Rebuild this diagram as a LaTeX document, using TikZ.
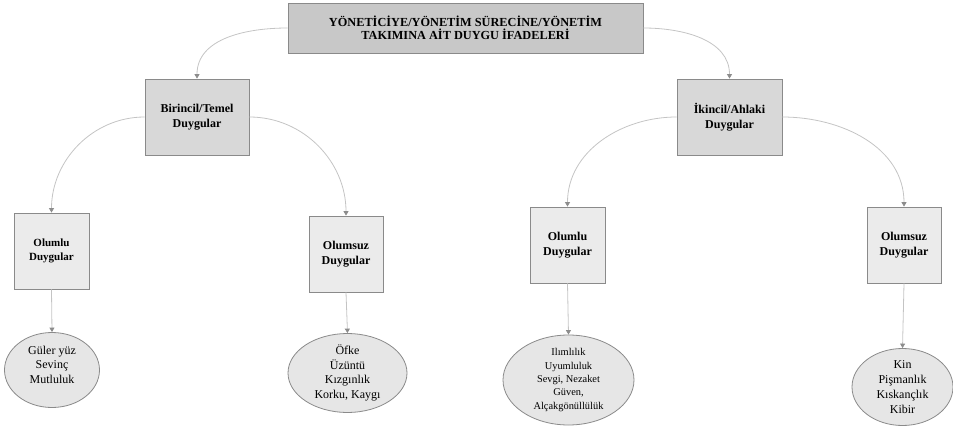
\documentclass[tikz,border=0pt]{standalone}
\usepackage{fontspec}
\setmainfont{Liberation Serif}
\usetikzlibrary{arrows.meta,shapes.geometric}
\definecolor{boxline}{HTML}{8A8A8A}
\definecolor{topfill}{HTML}{C8C8C8}
\definecolor{midfill}{HTML}{D8D8D8}
\definecolor{lowfill}{HTML}{EBEBEB}
\definecolor{ellfill}{HTML}{E6E6E6}
\definecolor{conn}{HTML}{C4C4C4}
\definecolor{tipc}{HTML}{8C8C8C}
\tikzset{
  topbox/.style={draw=boxline,fill=topfill,line width=0.8pt,minimum width=355pt,minimum height=50pt,inner sep=0pt,align=center,font=\fontsize{12.3}{13.5}\selectfont\bfseries},
  midbox/.style={draw=boxline,fill=midfill,line width=0.8pt,minimum width=104pt,minimum height=76pt,inner sep=0pt,align=center,font=\fontsize{12}{15}\selectfont\bfseries},
  lowbox/.style={draw=boxline,fill=lowfill,line width=0.8pt,minimum width=75pt,minimum height=76pt,inner sep=0pt,align=center,font=\fontsize{12}{15}\selectfont\bfseries},
  ellbox/.style={ellipse,draw=boxline,fill=ellfill,line width=0.8pt,inner sep=0pt,align=center,font=\fontsize{12}{14.5}\selectfont},
  conline/.style={draw=conn,line width=0.8pt,-{Triangle[width=5pt,length=4.5pt,fill=tipc,color=tipc]}},
}
\begin{document}
\begin{tikzpicture}[x=1pt,y=-1pt]
\useasboundingbox (0,0) rectangle (953,428);
\node[topbox] (top) at (465.5,28) {YÖNETİCİYE/YÖNETİM SÜRECİNE/YÖNETİM\\TAKIMINA AİT DUYGU İFADELERİ};
\node[midbox] (bir) at (197,117) {Birincil/Temel\\Duygular};
\node[midbox,minimum width=105pt] (iki) at (729.5,117) {İkincil/Ahlaki\\Duygular};
\node[lowbox,font=\fontsize{11}{14.5}\selectfont\bfseries] (lo1) at (51.5,251) {Olumlu\\Duygular};
\node[lowbox,minimum width=74pt] (lo2) at (346,254) {Olumsuz\\Duygular};
\node[lowbox] (lo3) at (567.5,245) {Olumlu\\Duygular};
\node[lowbox,minimum width=74pt] (lo4) at (904,245) {Olumsuz\\Duygular};
\node[ellbox,minimum width=95pt,minimum height=75pt] (e1) at (52,370) {Güler yüz\\Sevinç\\Mutluluk\\[-4pt]\mbox{}};
\node[ellbox,minimum width=119pt,minimum height=76pt] (e2) at (347.5,373) {Öfke\\Üzüntü\\Kızgınlık\\Korku, Kaygı};
\node[ellbox,minimum width=131pt,minimum height=90pt,font=\fontsize{10.4}{13.3}\selectfont] (e3) at (568.5,380) {Ilımlılık\\Uyumluluk\\Sevgi, Nezaket\\Güven,\\Alçakgönüllülük};
\node[ellbox,minimum width=101pt,minimum height=77pt,font=\fontsize{12}{15}\selectfont] (e4) at (902.5,387) {Kin\\Pişmanlık\\Kıskançlık\\Kibir};
\draw[conline] (top.west) to[out=180,in=90] (bir.north);
\draw[conline] (top.east) to[out=0,in=90] (iki.north);
\draw[conline] (bir.west) to[out=180,in=90] (lo1.north);
\draw[conline] (bir.east) to[out=0,in=90] (lo2.north);
\draw[conline] (iki.west) to[out=180,in=90] (lo3.north);
\draw[conline] (iki.east) to[out=0,in=90] (lo4.north);
\draw[conline] (lo1.south) -- (e1.north);
\draw[conline] (lo2.south) -- (e2.north);
\draw[conline] (lo3.south) -- (e3.north);
\draw[conline] (lo4.south) -- (e4.north);
\end{tikzpicture}
\end{document}
